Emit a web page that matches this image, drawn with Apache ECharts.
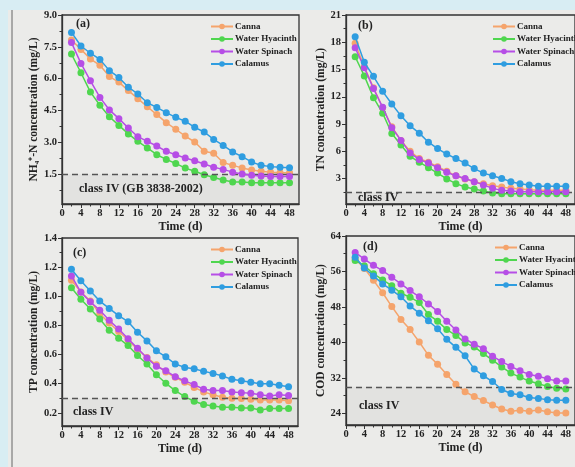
<!DOCTYPE html>
<html>
<head>
<meta charset="utf-8">
<script src="https://cdn.jsdelivr.net/npm/echarts@6/dist/echarts.min.js"></script>
<style>
html, body { margin: 0; padding: 0; background: #d8edf3; }
#main { width: 575px; height: 467px; }
</style>
</head>
<body>
<div id="main"></div>
<script>
var days = [2, 4, 6, 8, 10, 12, 14, 16, 18, 20, 22, 24, 26, 28, 30, 32, 34, 36, 38, 40, 42, 44, 46, 48];
var plants = ['Canna', 'Water Hyacinth', 'Water Spinach', 'Calamus'];
var colors = ['#f5a46c', '#4fd64f', '#b64ee6', '#2f9de0'];

// (a) NH4+-N
var nh4Canna    = [7.82, 7.38, 6.93, 6.63, 6.10, 5.84, 5.44, 5.06, 4.68, 4.31, 3.93, 3.62, 3.30, 3.02, 2.58, 2.49, 2.05, 1.92, 1.80, 1.70, 1.64, 1.60, 1.57, 1.57];
var nh4Hyacinth = [7.16, 6.28, 5.37, 4.75, 4.21, 3.80, 3.40, 3.05, 2.74, 2.42, 2.20, 2.01, 1.79, 1.64, 1.48, 1.35, 1.23, 1.14, 1.14, 1.10, 1.10, 1.10, 1.10, 1.10];
var nh4Spinach  = [7.70, 6.72, 5.90, 5.12, 4.53, 4.12, 3.68, 3.27, 3.05, 2.83, 2.58, 2.42, 2.27, 2.14, 1.98, 1.83, 1.73, 1.60, 1.51, 1.45, 1.42, 1.39, 1.39, 1.39];
var nh4Calamus  = [8.18, 7.54, 7.20, 6.91, 6.38, 6.06, 5.60, 5.28, 4.87, 4.65, 4.40, 4.18, 4.00, 3.71, 3.49, 3.14, 2.86, 2.55, 2.33, 2.08, 1.92, 1.86, 1.83, 1.81];

// (b) TN
var tnCanna    = [17.9, 15.3, 13.0, 10.8, 8.7, 7.2, 6.0, 5.2, 4.8, 4.3, 3.8, 3.3, 2.96, 2.66, 2.44, 2.22, 2.07, 1.92, 1.85, 1.78, 1.7, 1.7, 1.7, 1.7];
var tnHyacinth = [16.4, 14.3, 11.9, 10.2, 7.96, 6.7, 5.45, 4.8, 4.2, 3.6, 2.96, 2.44, 2.07, 1.85, 1.63, 1.4, 1.33, 1.33, 1.33, 1.33, 1.33, 1.33, 1.33, 1.33];
var tnSpinach  = [17.4, 15.2, 12.9, 10.85, 8.6, 7.2, 5.8, 5.1, 4.7, 4.2, 3.7, 3.3, 3.0, 2.66, 2.3, 1.92, 1.7, 1.63, 1.55, 1.55, 1.55, 1.55, 1.55, 1.55];
var tnCalamus  = [18.6, 15.8, 14.25, 12.6, 11.2, 9.9, 8.8, 8.0, 7.0, 6.3, 5.7, 5.2, 4.7, 4.1, 3.6, 3.3, 3.0, 2.66, 2.44, 2.3, 2.15, 2.15, 2.15, 2.15];

// (c) TP
var tpCanna    = [1.11, 1.03, 0.967, 0.88, 0.817, 0.758, 0.70, 0.635, 0.58, 0.53, 0.48, 0.444, 0.41, 0.375, 0.344, 0.325, 0.307, 0.30, 0.298, 0.293, 0.289, 0.289, 0.289, 0.284];
var tpHyacinth = [1.058, 0.98, 0.913, 0.844, 0.767, 0.712, 0.662, 0.594, 0.535, 0.462, 0.403, 0.353, 0.312, 0.28, 0.257, 0.248, 0.239, 0.239, 0.234, 0.234, 0.22, 0.23, 0.23, 0.23];
var tpSpinach  = [1.14, 1.027, 0.963, 0.904, 0.835, 0.776, 0.708, 0.644, 0.576, 0.52, 0.489, 0.448, 0.42, 0.394, 0.362, 0.353, 0.353, 0.344, 0.339, 0.334, 0.325, 0.316, 0.325, 0.32];
var tpCalamus  = [1.185, 1.106, 1.036, 0.967, 0.917, 0.867, 0.826, 0.753, 0.694, 0.626, 0.585, 0.535, 0.512, 0.503, 0.485, 0.471, 0.453, 0.43, 0.42, 0.41, 0.40, 0.40, 0.39, 0.38];

// (d) COD
var codCanna    = [58.9, 56.7, 54.0, 51.2, 48.1, 45.2, 42.9, 40.1, 37.1, 35.1, 32.8, 30.6, 28.9, 27.8, 26.9, 25.9, 25.0, 24.5, 24.7, 24.5, 24.8, 24.4, 24.1, 24.1];
var codHyacinth = [58.5, 57.3, 55.5, 54.1, 52.8, 51.1, 50.2, 49.0, 46.3, 44.8, 42.9, 41.6, 39.9, 39.0, 37.5, 36.0, 34.5, 33.1, 32.2, 31.3, 30.7, 30.1, 29.7, 29.5];
var codSpinach  = [60.3, 58.8, 57.4, 56.2, 54.7, 53.2, 51.7, 50.3, 48.7, 47.0, 44.8, 42.8, 40.8, 39.6, 38.6, 36.9, 35.7, 34.6, 33.6, 32.8, 32.4, 31.8, 31.3, 31.3];
var codCalamus  = [59.2, 56.8, 55.0, 53.2, 51.8, 50.3, 48.2, 46.6, 44.9, 43.1, 40.7, 38.9, 37.0, 34.0, 32.5, 31.2, 29.4, 28.5, 28.2, 27.6, 27.4, 27.1, 27.0, 27.0];

// ticks
var xLabels = [0, 4, 8, 12, 16, 20, 24, 28, 32, 36, 40, 44, 48];
var xMinor = [2, 6, 10, 14, 18, 22, 26, 30, 34, 38, 42, 46];
var nh4Labels = [1.5, 3.0, 4.5, 6.0, 7.5, 9.0];
var nh4Minor = [0.75, 2.25, 3.75, 5.25, 6.75, 8.25];
var tnLabels = [3, 6, 9, 12, 15, 18, 21];
var tnMinor = [1.5, 4.5, 7.5, 10.5, 13.5, 16.5, 19.5];
var tpLabels = [0.2, 0.4, 0.6, 0.8, 1.0, 1.2, 1.4];
var tpMinor = [0.3, 0.5, 0.7, 0.9, 1.1, 1.3];
var codLabels = [24, 32, 40, 48, 56, 64];
var codMinor = [28, 36, 44, 52, 60];

var font = 'Liberation Serif';
var ink = '#222';

var panels = [
  { tag: '(a)', name: 'NH\u2084\u207A-N concentration (mg/L)', series: [nh4Canna, nh4Hyacinth, nh4Spinach, nh4Calamus],
    min: 0.1, max: 9, labels: nh4Labels, minor: nh4Minor, dec: 1, limit: 1.5, note: 'class IV (GB 3838-2002)',
    grid: { left: 62, top: 15, width: 237, height: 189 }, nameGap: 21, legend: [210, 22], tagPos: [76, 18], noteOff: 12 },
  { tag: '(b)', name: 'TN concentration (mg/L)', series: [tnCanna, tnHyacinth, tnSpinach, tnCalamus],
    min: 0.2, max: 21, labels: tnLabels, minor: tnMinor, dec: 0, limit: 1.5, note: 'class IV',
    grid: { left: 346, top: 15, width: 236, height: 189 }, nameGap: 17, legend: [492, 22], tagPos: [358, 20], noteOff: 7 },
  { tag: '(c)', name: 'TP concentration (mg/L)', series: [tpCanna, tpHyacinth, tpSpinach, tpCalamus],
    min: 0.11, max: 1.4, labels: tpLabels, minor: tpMinor, dec: 1, limit: 0.3, note: 'class IV',
    grid: { left: 62, top: 238, width: 236, height: 188 }, nameGap: 19, legend: [210, 245], tagPos: [73, 247], noteOff: 6 },
  { tag: '(d)', name: 'COD concentration (mg/L)', series: [codCanna, codHyacinth, codSpinach, codCalamus],
    min: 21.4, max: 64, labels: codLabels, minor: codMinor, dec: 0, limit: 30, note: 'class IV',
    grid: { left: 346, top: 236, width: 236, height: 189 }, nameGap: 18, legend: [494, 243], tagPos: [363, 241], noteOff: 8 }
];

var grids = [], xAxes = [], yAxes = [], series = [], legends = [], titles = [];

panels.forEach(function (p, i) {
  grids.push(Object.assign({ show: true, borderColor: '#333', borderWidth: 1.3, backgroundColor: 'transparent' }, p.grid));

  xAxes.push({
    type: 'value', gridIndex: i, position: 'bottom', min: 0, max: 50,
    name: 'Time (d)', nameLocation: 'middle', nameGap: 17,
    nameTextStyle: { fontFamily: font, fontWeight: 'bold', fontSize: 12, color: ink },
    axisLine: { onZero: false, lineStyle: { color: '#333', width: 1.3 } },
    axisTick: { show: true, inside: false, length: 4, customValues: xLabels, lineStyle: { color: '#333' } },
    axisLabel: { customValues: xLabels, margin: 4, fontFamily: font, fontWeight: 'bold', fontSize: 10.5, color: ink },
    splitLine: { show: false }
  });
  xAxes.push({
    type: 'value', gridIndex: i, position: 'bottom', min: 0, max: 50,
    axisLine: { show: false },
    axisTick: { show: true, inside: false, length: 2.5, customValues: xMinor, lineStyle: { color: '#333' } },
    axisLabel: { show: false }, splitLine: { show: false }
  });

  yAxes.push({
    type: 'value', gridIndex: i, position: 'left', min: p.min, max: p.max,
    name: p.name, nameLocation: 'middle', nameGap: p.nameGap, nameRotate: 90,
    nameTextStyle: { fontFamily: font, fontWeight: 'bold', fontSize: 11.5, color: ink },
    axisLine: { onZero: false, lineStyle: { color: '#333', width: 1.3 } },
    axisTick: { show: true, inside: false, length: 4, customValues: p.labels, lineStyle: { color: '#333' } },
    axisLabel: {
      customValues: p.labels, margin: 5, fontFamily: font, fontWeight: 'bold', fontSize: 10.5, color: ink,
      formatter: (function (d) { return function (v) { return Number(v).toFixed(d); }; })(p.dec)
    },
    splitLine: { show: false }
  });
  yAxes.push({
    type: 'value', gridIndex: i, position: 'left', min: p.min, max: p.max,
    axisLine: { show: false },
    axisTick: { show: true, inside: false, length: 2.5, customValues: p.minor, lineStyle: { color: '#333' } },
    axisLabel: { show: false }, splitLine: { show: false }
  });

  p.series.forEach(function (vals, k) {
    var s = {
      name: plants[k], type: 'line', xAxisIndex: 2 * i, yAxisIndex: 2 * i,
      data: days.map(function (d, j) { return [d, vals[j]]; }),
      symbol: 'circle', symbolSize: 7, showSymbol: true,
      lineStyle: { color: colors[k], width: 1.5 },
      itemStyle: { color: colors[k] },
      emphasis: { disabled: true },
      z: 3 + k
    };
    if (k === 0) {
      s.markLine = {
        silent: true, symbol: 'none', label: { show: false },
        lineStyle: { type: [6, 4], color: '#555', width: 1.3 },
        data: [{ yAxis: p.limit }]
      };
      s.markArea = {
        silent: true,
        itemStyle: { color: 'rgba(0,0,0,0.035)' },
        label: {
          show: true, position: 'insideLeft', offset: [p.noteOff, 0],
          fontFamily: font, fontWeight: 'bold', fontSize: 12, color: ink
        },
        data: [[{ yAxis: p.min, name: p.note }, { yAxis: p.limit }]]
      };
    }
    series.push(s);
  });

  legends.push({
    left: p.legend[0], top: p.legend[1], orient: 'vertical', padding: 0,
    itemWidth: 22, itemHeight: 7, itemGap: 3.5,
    data: plants,
    textStyle: { fontFamily: font, fontWeight: 'bold', fontSize: 9, color: ink, padding: [0, 0, 0, -3] }
  });

  titles.push({
    text: p.tag, left: p.tagPos[0], top: p.tagPos[1], padding: 0,
    textStyle: { fontFamily: font, fontWeight: 'bold', fontSize: 12, color: ink }
  });
});

var chartDom = document.getElementById('main');
var myChart = echarts.init(chartDom);
var option = {
  animation: false,
  backgroundColor: '#d8edf3',
  graphic: [
    { type: 'rect', shape: { x: 8, y: 10, width: 567, height: 457 }, style: { fill: '#ebebe9' }, z: -10, silent: true },
    { type: 'line', shape: { x1: 12, y1: 10, x2: 12, y2: 467 }, style: { stroke: '#666', lineWidth: 1 }, z: -9, silent: true }
  ],
  title: titles,
  legend: legends,
  grid: grids,
  xAxis: xAxes,
  yAxis: yAxes,
  series: series
};

option && myChart.setOption(option);
</script>
</body>
</html>
